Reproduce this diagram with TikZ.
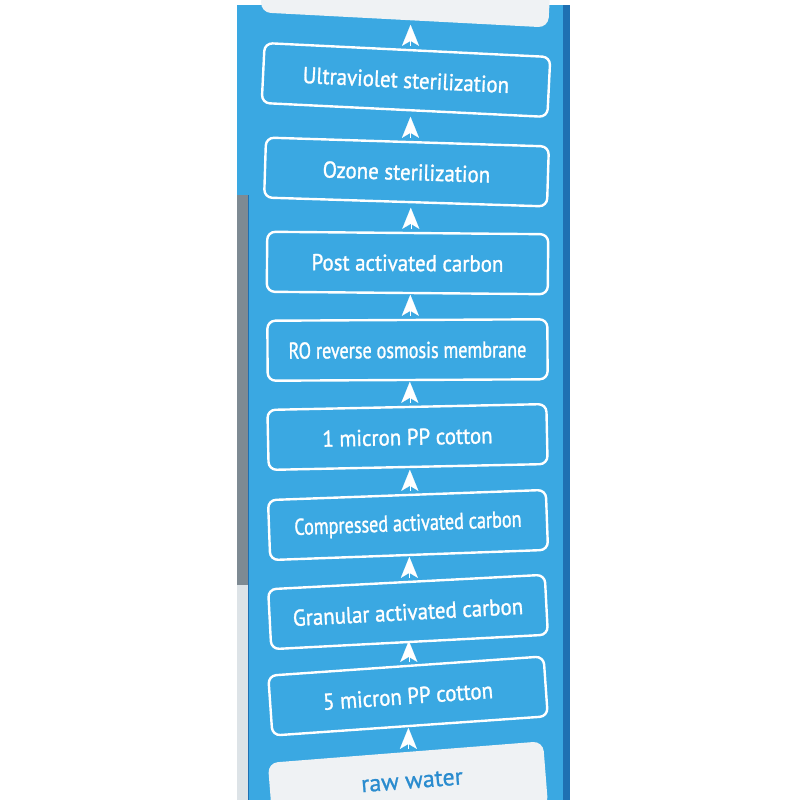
\documentclass[tikz,border=0pt]{standalone}
\usepackage{fontspec}
\setmainfont[FakeStretch=0.91,FakeBold=1.2]{PT Sans}
\newfontfamily\narrowfont[FakeStretch=0.79,FakeBold=1.2]{PT Sans}
\newfontfamily\plainfont[FakeBold=1.0]{PT Sans}
\usetikzlibrary{arrows.meta,calc}
\definecolor{panel}{HTML}{3AA8E2}
\definecolor{panelDark}{HTML}{1F70B2}
\definecolor{metal}{HTML}{7E8A93}
\definecolor{glass}{HTML}{DDE3E7}
\definecolor{boxwhite}{HTML}{EFF2F4}
\definecolor{textblue}{HTML}{2A8CCF}
\begin{document}
\begin{tikzpicture}[x=1pt,y=1pt,
  stage/.style={draw=white, line width=2.4pt, rounded corners=8pt,
    minimum height=60pt, text=white, inner sep=0pt,
    font=\fontsize{23}{27}\selectfont},
  narrowstage/.style={stage, font=\narrowfont\fontsize{23}{27}\selectfont},
  endbox/.style={fill=boxwhite, rounded corners=10pt, inner sep=0pt},
  endtext/.style={inner sep=0pt, text=textblue, font=\plainfont\fontsize{24}{28}\selectfont},
  flow/.style={draw=white, line width=0.1pt,
    -{Stealth[length=21pt,width=17pt,inset=5pt,fill=white]}}
]
\useasboundingbox (0,0) rectangle (800,800);
\clip (0,0) rectangle (800,800);
\fill[white] (0,0) rectangle (800,800);
% panel
\fill[panel] (237,0) rectangle (563,795);
\fill[panelDark] (563,0) rectangle (570,795);
\fill[metal] (237,0) rectangle (248,605);
\fill[glass] (237,0) rectangle (248,215);
\draw[panelDark, line width=1pt] (248.5,0) -- (248.5,605);

% end boxes
\node[endbox, minimum width=288pt, minimum height=60pt, rotate=-3] (top) at (406,810) {};
\node[endbox, minimum width=276pt, minimum height=66pt, rotate=4.5] (raw) at (408,15) {};
\node[endtext, rotate=4.5] (rawtext) at (412,19) {raw water};

% stages
\node[stage, minimum width=286pt, rotate=-2.8] (b1) at (406,720) {Ultraviolet sterilization};
\node[stage, minimum width=283pt, rotate=-1.8] (b2) at (406.5,628) {Ozone sterilization};
\node[stage, minimum width=281pt, rotate=-0.5] (b3) at (407.5,537) {Post activated carbon};
\node[narrowstage, minimum width=280pt, rotate=0.3] (b4) at (407.5,450) {RO reverse osmosis membrane};
\node[stage, minimum width=279pt, rotate=1.2] (b5) at (407.5,363) {1 micron PP cotton};
\node[narrowstage, minimum width=278pt, rotate=2.1] (b6) at (408,275) {Compressed activated carbon};
\node[stage, minimum width=277pt, rotate=3.0] (b7) at (408,188) {Granular activated carbon};
\node[stage, minimum width=276pt, rotate=4.0] (b8) at (408,104) {5 micron PP cotton};

% arrows
\foreach \lo/\hi in {raw/b8, b8/b7, b7/b6, b6/b5, b5/b4, b4/b3, b3/b2, b2/b1, b1/top}{
  \draw[flow] ($(\lo.north)+(3,3)$) -- ($(\lo.north)+(3,24)$);
}
\end{tikzpicture}
\end{document}
